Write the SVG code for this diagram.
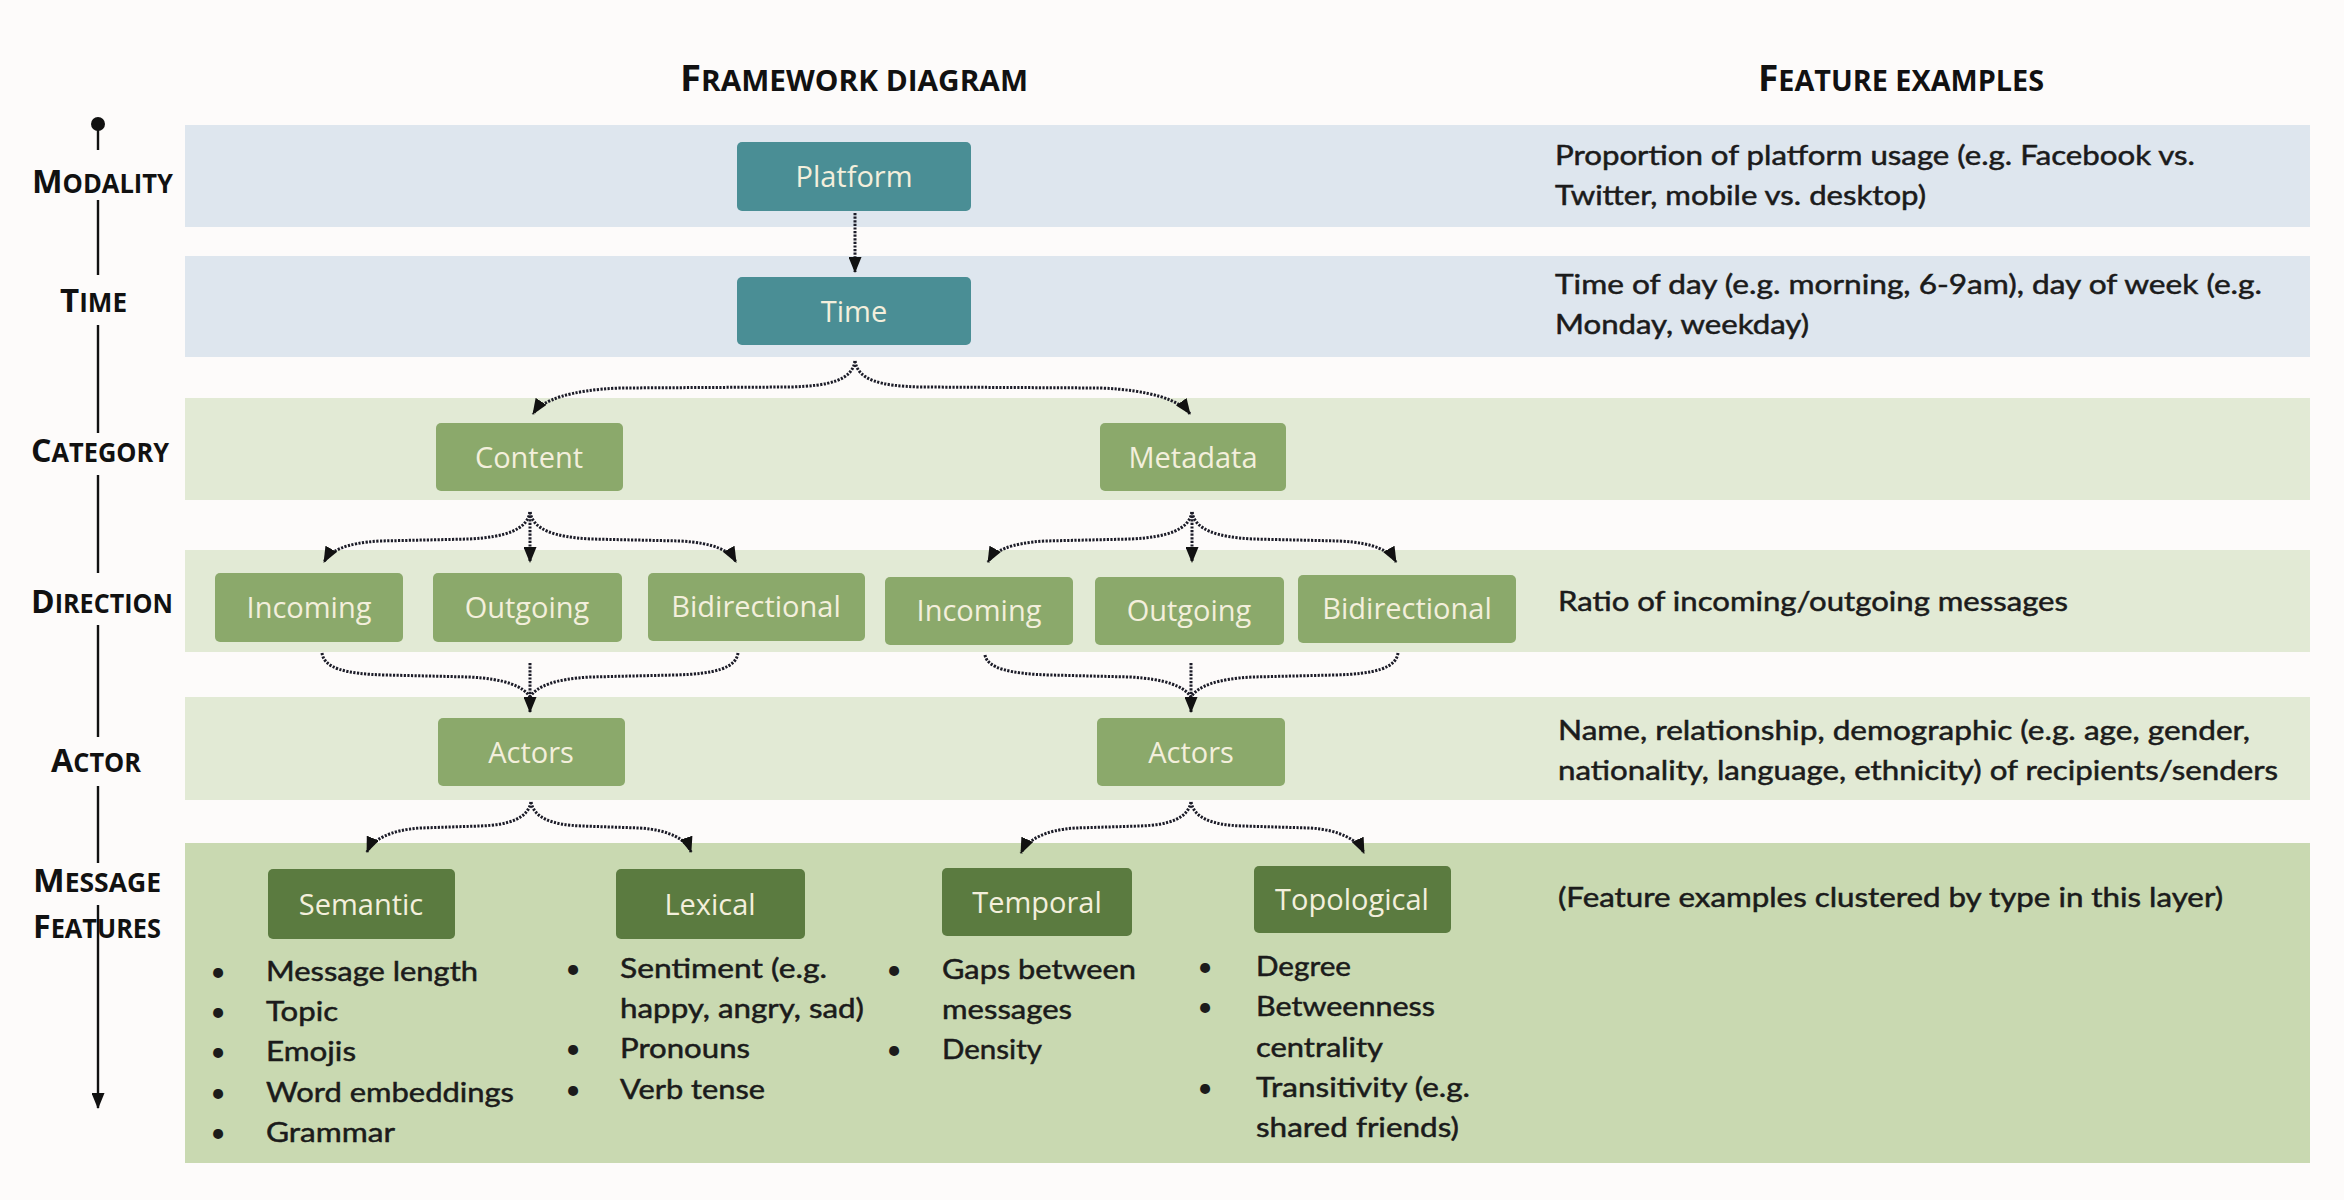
<svg xmlns="http://www.w3.org/2000/svg" width="2344" height="1200" viewBox="0 0 2344 1200">
  <defs>
    <style>
      .bg { fill: #fdfbfa; }
      .band-blue { fill: #dee6ee; }
      .band-lg { fill: #e2ead5; }
      .band-dg { fill: #c9d9b1; }
      .n-teal rect { fill: #4a8e95; }
      .n-mid rect { fill: #8ba96b; }
      .n-dark rect { fill: #5b7b40; }
      .node text { font-family: "Open Sans", "DejaVu Sans", sans-serif; font-size: 29px; fill: #f3efdc; text-anchor: middle; }
      .head { font-family: "Open Sans", "DejaVu Sans", sans-serif; font-weight: 700; fill: #111; }
      .axis { font-family: "Open Sans", "DejaVu Sans", sans-serif; font-weight: 700; fill: #111; }
      .ex { font-family: Lato, "Liberation Sans", sans-serif; font-size: 27px; fill: #1b1b1b; stroke: #1b1b1b; stroke-width: 0.5; }
      .bul { font-family: Lato, "Liberation Sans", sans-serif; font-size: 27px; fill: #1b1b1b; text-anchor: middle; }
      .conn { fill: none; stroke: #1c1c28; stroke-width: 3; stroke-dasharray: 2.2 1.4; }
      .axisline { fill: none; stroke: #111; stroke-width: 2.4; }
    </style>
    <marker id="arrow" viewBox="0 0 16 13" refX="15" refY="6.5" markerWidth="16" markerHeight="13" markerUnits="userSpaceOnUse" orient="auto">
      <path d="M0,0 L16,6.5 L0,13 z" fill="#111"/>
    </marker>
  </defs>

  <rect class="bg" x="0" y="0" width="2344" height="1200"/>

  <!-- layer bands -->
  <g id="bands">
    <rect class="band-blue" x="185" y="125" width="2125" height="102"/>
    <rect class="band-blue" x="185" y="256" width="2125" height="101"/>
    <rect class="band-lg" x="185" y="398" width="2125" height="102"/>
    <rect class="band-lg" x="185" y="550" width="2125" height="102"/>
    <rect class="band-lg" x="185" y="697" width="2125" height="103"/>
    <rect class="band-dg" x="185" y="843" width="2125" height="320"/>
  </g>

  <!-- column headings -->
  <g id="headings">
    <text class="head" x="680" y="91" textLength="348" lengthAdjust="spacingAndGlyphs"><tspan font-size="36">F</tspan><tspan font-size="28">RAMEWORK DIAGRAM</tspan></text>
    <text class="head" x="1758" y="91" textLength="286" lengthAdjust="spacingAndGlyphs"><tspan font-size="36">F</tspan><tspan font-size="28">EATURE EXAMPLES</tspan></text>
  </g>

  <!-- layer axis on the left -->
  <g id="axis">
    <circle cx="98" cy="124" r="7" fill="#111"/>
    <path class="axisline" d="M98,124 V150 M98,200 V275 M98,325 V433 M98,475 V573 M98,625 V737 M98,786 V863"/>
    <path class="axisline" d="M98,905 V1108" marker-end="url(#arrow)"/>
    <text class="axis" x="32" y="193" textLength="141" lengthAdjust="spacingAndGlyphs"><tspan font-size="33">M</tspan><tspan font-size="26">ODALITY</tspan></text>
    <text class="axis" x="60" y="312" textLength="67" lengthAdjust="spacingAndGlyphs"><tspan font-size="33">T</tspan><tspan font-size="26">IME</tspan></text>
    <text class="axis" x="31" y="462" textLength="138" lengthAdjust="spacingAndGlyphs"><tspan font-size="33">C</tspan><tspan font-size="26">ATEGORY</tspan></text>
    <text class="axis" x="31" y="613" textLength="142" lengthAdjust="spacingAndGlyphs"><tspan font-size="33">D</tspan><tspan font-size="26">IRECTION</tspan></text>
    <text class="axis" x="51" y="772" textLength="90" lengthAdjust="spacingAndGlyphs"><tspan font-size="33">A</tspan><tspan font-size="26">CTOR</tspan></text>
    <text class="axis" x="33" y="892" textLength="128" lengthAdjust="spacingAndGlyphs"><tspan font-size="33">M</tspan><tspan font-size="26">ESSAGE</tspan></text>
    <text class="axis" x="33" y="938" textLength="128" lengthAdjust="spacingAndGlyphs"><tspan font-size="33">F</tspan><tspan font-size="26">EATURES</tspan></text>
  </g>

  <!-- connectors -->
  <g id="connectors">
    <path class="conn" d="M855,213 L855,272" marker-end="url(#arrow)"/>
    <!-- Time to categories -->
    <path class="conn" d="M855,361 C852,380 830,386 790,387 L620,388 C570,390 542,400 533,414" marker-end="url(#arrow)"/>
    <path class="conn" d="M855,361 C858,380 880,386 920,387 L1100,388 C1150,390 1180,400 1190,414" marker-end="url(#arrow)"/>
    <!-- Content to directions -->
    <path class="conn" d="M530,512 C527,530 505,537 470,539 L380,541 C345,543 330,551 324,562" marker-end="url(#arrow)"/>
    <path class="conn" d="M530,512 L530,562" marker-end="url(#arrow)"/>
    <path class="conn" d="M530,512 C533,530 555,537 590,539 L680,541 C715,543 730,551 736,562" marker-end="url(#arrow)"/>
    <!-- Metadata to directions -->
    <path class="conn" d="M1192,512 C1189,530 1167,537 1132,539 L1045,541 C1010,543 994,551 988,562" marker-end="url(#arrow)"/>
    <path class="conn" d="M1192,512 L1192,562" marker-end="url(#arrow)"/>
    <path class="conn" d="M1192,512 C1195,530 1217,537 1252,539 L1340,541 C1375,543 1390,551 1396,562" marker-end="url(#arrow)"/>
    <!-- directions to actors (content side) -->
    <path class="conn" d="M322,653 C324,668 345,674 385,675 L470,677 C505,679 523,686 530,697"/>
    <path class="conn" d="M738,653 C736,668 715,674 675,675 L590,677 C555,679 537,686 530,697"/>
    <path class="conn" d="M530,663 L530,712" marker-end="url(#arrow)"/>
    <!-- directions to actors (metadata side) -->
    <path class="conn" d="M985,655 C987,668 1010,674 1050,675 L1130,677 C1165,679 1184,686 1191,697"/>
    <path class="conn" d="M1398,653 C1396,668 1375,674 1335,675 L1252,677 C1217,679 1198,686 1191,697"/>
    <path class="conn" d="M1191,663 L1191,712" marker-end="url(#arrow)"/>
    <!-- actors to message feature types -->
    <path class="conn" d="M531,802 C528,818 510,825 480,826 L420,828 C390,830 372,840 367,852" marker-end="url(#arrow)"/>
    <path class="conn" d="M531,802 C534,818 552,825 582,826 L640,828 C670,830 687,840 691,852" marker-end="url(#arrow)"/>
    <path class="conn" d="M1191,802 C1188,818 1170,825 1140,826 L1075,828 C1045,830 1027,840 1021,853" marker-end="url(#arrow)"/>
    <path class="conn" d="M1191,802 C1194,818 1212,825 1242,826 L1310,828 C1340,830 1358,840 1364,853" marker-end="url(#arrow)"/>
  </g>

  <!-- nodes -->
  <g id="node-platform" class="node n-teal"><rect x="737" y="142" width="234" height="69" rx="5"/><text x="854" y="187">Platform</text></g>
  <g id="node-time" class="node n-teal"><rect x="737" y="277" width="234" height="68" rx="5"/><text x="854" y="322">Time</text></g>

  <g id="node-content" class="node n-mid"><rect x="436" y="423" width="187" height="68" rx="5"/><text x="529" y="468">Content</text></g>
  <g id="node-metadata" class="node n-mid"><rect x="1100" y="423" width="186" height="68" rx="5"/><text x="1193" y="468">Metadata</text></g>

  <g id="node-incoming-content" class="node n-mid"><rect x="215" y="573" width="188" height="69" rx="5"/><text x="309" y="618">Incoming</text></g>
  <g id="node-outgoing-content" class="node n-mid"><rect x="433" y="573" width="189" height="69" rx="5"/><text x="527" y="618">Outgoing</text></g>
  <g id="node-bidirectional-content" class="node n-mid"><rect x="648" y="573" width="217" height="68" rx="5"/><text x="756" y="617">Bidirectional</text></g>

  <g id="node-incoming-metadata" class="node n-mid"><rect x="885" y="577" width="188" height="68" rx="5"/><text x="979" y="621">Incoming</text></g>
  <g id="node-outgoing-metadata" class="node n-mid"><rect x="1095" y="577" width="189" height="68" rx="5"/><text x="1189" y="621">Outgoing</text></g>
  <g id="node-bidirectional-metadata" class="node n-mid"><rect x="1298" y="575" width="218" height="68" rx="5"/><text x="1407" y="619">Bidirectional</text></g>

  <g id="node-actors-content" class="node n-mid"><rect x="438" y="718" width="187" height="68" rx="5"/><text x="531" y="763">Actors</text></g>
  <g id="node-actors-metadata" class="node n-mid"><rect x="1097" y="718" width="188" height="68" rx="5"/><text x="1191" y="763">Actors</text></g>

  <g id="node-semantic" class="node n-dark"><rect x="268" y="869" width="187" height="70" rx="5"/><text x="361" y="915">Semantic</text></g>
  <g id="node-lexical" class="node n-dark"><rect x="616" y="869" width="189" height="70" rx="5"/><text x="710" y="915">Lexical</text></g>
  <g id="node-temporal" class="node n-dark"><rect x="942" y="868" width="190" height="68" rx="5"/><text x="1037" y="913">Temporal</text></g>
  <g id="node-topological" class="node n-dark"><rect x="1254" y="866" width="197" height="67" rx="5"/><text x="1352" y="910">Topological</text></g>

  <!-- feature lists under each feature type -->
  <g id="list-semantic">
    <text class="bul" x="218" y="981">•</text><text class="ex" x="266" y="981" textLength="212" lengthAdjust="spacingAndGlyphs">Message length</text>
    <text class="bul" x="218" y="1021">•</text><text class="ex" x="266" y="1021" textLength="72" lengthAdjust="spacingAndGlyphs">Topic</text>
    <text class="bul" x="218" y="1061">•</text><text class="ex" x="266" y="1061" textLength="90" lengthAdjust="spacingAndGlyphs">Emojis</text>
    <text class="bul" x="218" y="1102">•</text><text class="ex" x="266" y="1102" textLength="248" lengthAdjust="spacingAndGlyphs">Word embeddings</text>
    <text class="bul" x="218" y="1142">•</text><text class="ex" x="266" y="1142" textLength="129" lengthAdjust="spacingAndGlyphs">Grammar</text>
  </g>
  <g id="list-lexical">
    <text class="bul" x="573" y="978">•</text><text class="ex" x="620" y="978" textLength="207" lengthAdjust="spacingAndGlyphs">Sentiment (e.g.</text>
    <text class="ex" x="620" y="1018" textLength="244" lengthAdjust="spacingAndGlyphs">happy, angry, sad)</text>
    <text class="bul" x="573" y="1058">•</text><text class="ex" x="620" y="1058" textLength="130" lengthAdjust="spacingAndGlyphs">Pronouns</text>
    <text class="bul" x="573" y="1099">•</text><text class="ex" x="620" y="1099" textLength="145" lengthAdjust="spacingAndGlyphs">Verb tense</text>
  </g>
  <g id="list-temporal">
    <text class="bul" x="894" y="979">•</text><text class="ex" x="942" y="979" textLength="194" lengthAdjust="spacingAndGlyphs">Gaps between</text>
    <text class="ex" x="942" y="1019" textLength="130" lengthAdjust="spacingAndGlyphs">messages</text>
    <text class="bul" x="894" y="1059">•</text><text class="ex" x="942" y="1059" textLength="100" lengthAdjust="spacingAndGlyphs">Density</text>
  </g>
  <g id="list-topological">
    <text class="bul" x="1205" y="976">•</text><text class="ex" x="1256" y="976" textLength="95" lengthAdjust="spacingAndGlyphs">Degree</text>
    <text class="bul" x="1205" y="1016">•</text><text class="ex" x="1256" y="1016" textLength="179" lengthAdjust="spacingAndGlyphs">Betweenness</text>
    <text class="ex" x="1256" y="1057" textLength="127" lengthAdjust="spacingAndGlyphs">centrality</text>
    <text class="bul" x="1205" y="1097">•</text><text class="ex" x="1256" y="1097" textLength="214" lengthAdjust="spacingAndGlyphs">Transitivity (e.g.</text>
    <text class="ex" x="1256" y="1137" textLength="203" lengthAdjust="spacingAndGlyphs">shared friends)</text>
  </g>

  <!-- feature examples column -->
  <g id="examples">
    <text class="ex" x="1555" y="165" textLength="640" lengthAdjust="spacingAndGlyphs">Proportion of platform usage (e.g. Facebook vs.</text>
    <text class="ex" x="1555" y="205" textLength="371" lengthAdjust="spacingAndGlyphs">Twitter, mobile vs. desktop)</text>
    <text class="ex" x="1555" y="294" textLength="707" lengthAdjust="spacingAndGlyphs">Time of day (e.g. morning, 6-9am), day of week (e.g.</text>
    <text class="ex" x="1555" y="334" textLength="254" lengthAdjust="spacingAndGlyphs">Monday, weekday)</text>
    <text class="ex" x="1558" y="611" textLength="510" lengthAdjust="spacingAndGlyphs">Ratio of incoming/outgoing messages</text>
    <text class="ex" x="1558" y="740" textLength="692" lengthAdjust="spacingAndGlyphs">Name, relationship, demographic (e.g. age, gender,</text>
    <text class="ex" x="1558" y="780" textLength="720" lengthAdjust="spacingAndGlyphs">nationality, language, ethnicity) of recipients/senders</text>
    <text class="ex" x="1558" y="907" textLength="665" lengthAdjust="spacingAndGlyphs">(Feature examples clustered by type in this layer)</text>
  </g>
</svg>
